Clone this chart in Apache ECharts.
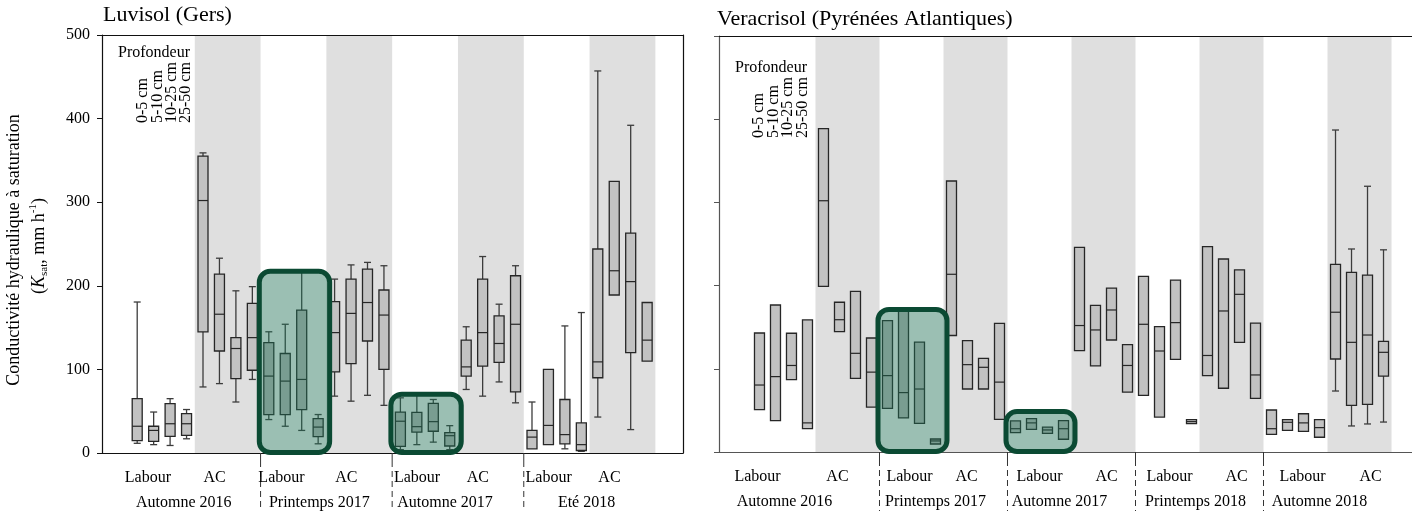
<!DOCTYPE html>
<html><head><meta charset="utf-8">
<script src="https://cdn.jsdelivr.net/npm/echarts@6/dist/echarts.min.js"></script>
<style>html,body{margin:0;padding:0;background:#fff}#c{width:1412px;height:511px}</style>
</head><body><div id="c"></div>
<script>
// ---------------- data ----------------
const panelTitles = ['Luvisol (Gers)', 'Veracrisol (Pyrénées Atlantiques)'];
const yAxisTitle = 'Conductivité hydraulique à saturation';
const depthTitle = 'Profondeur';
const depths = ['0-5 cm', '5-10 cm', '10-25 cm', '25-50 cm'];
const treatments = ['Labour', 'AC'];
const luvisolSeasons = ['Automne 2016', 'Printemps 2017', 'Automne 2017', 'Eté 2018'];
const veracrisolSeasons = ['Automne 2016', 'Printemps 2017', 'Automne 2017', 'Printemps 2018', 'Automne 2018'];
const yTicks = [0, 100, 200, 300, 400, 500];

// each box: [min, Q1, median, Q3, max] ; order: season > treatment > depth
const luvisolBoxes = [
  [11.6, 14.7, 32, 65, 180.6], [10, 14, 27, 32, 49], [9, 20, 35, 59, 65], [17, 21, 35, 47, 52],
  [79, 145, 302, 355, 359], [83, 122, 166, 214, 233], [61, 89, 125, 138, 194], [88, 99, 138, 179, 199],
  [40, 46, 92, 132, 145], [32, 46, 86, 119, 154], [27, 52, 88, 171, 218], [11, 19.5, 31, 41, 46],
  [68, 97, 144, 181, 208], [62, 107, 167, 208, 225], [69, 134, 180, 220, 228], [57, 100, 165, 195, 224],
  [4, 8, 38, 49, 66], [10, 25, 31.5, 48.6, 71], [13, 26, 37.5, 59.4, 64], [4, 8.4, 20.7, 24.3, 32.7],
  [76, 92, 103, 135, 151], [68, 104, 144, 208, 235], [85, 108.5, 131, 164, 178], [60, 73, 154, 212, 224],
  [5, 5, 19, 27, 61], [10, 10, 33, 100, 100], [5, 11, 22, 64, 152], [2, 3, 10, 36, 168],
  [43, 90, 109, 244, 457], [189, 189, 218, 325, 325], [28, 120, 205, 263, 392], [110, 110, 135, 180, 180]
];
const veracrisolBoxes = [
  [51, 51, 80.5, 143, 143], [37.7, 37.7, 90.6, 176.7, 176.7], [87, 87, 104, 142.7, 142.7], [28, 28, 35, 158.7, 158.7],
  [199, 199, 302, 388.7, 388.7], [144.7, 144.7, 159, 180, 180], [88.6, 88.6, 118.6, 193, 193], [54, 54, 96, 137, 137],
  [52.5, 52.5, 91.8, 158, 158], [41, 41, 71.4, 172, 172], [34.5, 34.5, 75.7, 132, 132], [9.6, 9.6, 13.3, 15.6, 15.6],
  [140, 140, 213.6, 325.7, 325.7], [75.7, 75.7, 105, 133.8, 133.8], [75.7, 75.7, 101.8, 112.6, 112.6], [39.3, 39.3, 84, 154.7, 154.7],
  [23.3, 23.3, 28, 37.3, 37.3], [27.3, 27.3, 35, 40, 40], [22.5, 22.5, 26.5, 30, 30], [15.3, 15.3, 28, 37.7, 37.7],
  [121.8, 121.8, 152, 246, 246], [103.4, 103.4, 146.7, 176.3, 176.3], [134.6, 134.6, 170.7, 197, 197], [72, 72, 104, 129, 129],
  [68, 68, 153.5, 211, 211], [42, 42, 121.4, 150.7, 150.7], [111.4, 111.4, 155.5, 206.7, 206.7], [34, 34, 36.5, 39, 39],
  [91.8, 91.8, 116, 246.8, 246.8], [76.6, 76.6, 169.5, 232, 232], [131.8, 131.8, 189.5, 219, 219], [64.5, 64.5, 92.6, 155, 155],
  [21.3, 21.3, 28, 50.5, 50.5], [26, 26, 35.7, 39, 39], [24.9, 24.9, 35, 46, 46], [17.7, 17.7, 29.3, 39, 39],
  [73.3, 111.8, 168, 225.6, 387], [31.3, 56, 131.8, 216, 244], [33.7, 57.3, 140.6, 212.7, 319.4], [36, 91.3, 119.8, 133, 243]
];
// highlighted groups: [seasonIndex, treatmentIndex]
const luvisolHighlights = [[1, 0], [2, 0]];
const veracrisolHighlights = [[1, 0], [2, 0]];

// ---------------- layout / style ----------------
const FONT = '"Liberation Serif","Times New Roman",serif';
const labelNudge = {
  luvisol: { treat: [-14, -13, -12, -13, -8, -13, -8, -13], season: [-11, -7, -13, -3] },
  veracrisol: { treat: [-26, -10, -2, -9, 0, 3, 2, 5, 7, 11], season: [-31, -8, -12, -4, -8] }
};

function boxSeriesData(boxes) { return boxes.map((b, i) => [i].concat(b)); }

function renderBox(params, api) {
  const x = api.value(0);
  const lo = api.value(1), q1 = api.value(2), md = api.value(3), q3 = api.value(4), hi = api.value(5);
  const cx = api.coord([x, md])[0];
  const yLo = api.coord([x, lo])[1], yQ1 = api.coord([x, q1])[1], yMd = api.coord([x, md])[1];
  const yQ3 = api.coord([x, q3])[1], yHi = api.coord([x, hi])[1];
  const hw = 5, cap = 3.5;
  const ws = { stroke: '#3c3c3c', lineWidth: 1.3 };
  const ch = [];
  if (hi > q3) {
    ch.push({ type: 'line', shape: { x1: cx, y1: yHi, x2: cx, y2: yQ3 }, style: ws });
    ch.push({ type: 'line', shape: { x1: cx - cap, y1: yHi, x2: cx + cap, y2: yHi }, style: ws });
  }
  if (lo < q1) {
    ch.push({ type: 'line', shape: { x1: cx, y1: yQ1, x2: cx, y2: yLo }, style: ws });
    ch.push({ type: 'line', shape: { x1: cx - cap, y1: yLo, x2: cx + cap, y2: yLo }, style: ws });
  }
  ch.push({ type: 'rect', shape: { x: cx - hw, y: yQ3, width: 2 * hw, height: Math.max(1, yQ1 - yQ3) },
    style: { fill: '#c2c2c2', stroke: '#262626', lineWidth: 1.3 } });
  ch.push({ type: 'line', shape: { x1: cx - hw, y1: yMd, x2: cx + hw, y2: yMd }, style: { stroke: '#262626', lineWidth: 1.2 } });
  return { type: 'group', children: ch };
}

function renderBand(params, api) {
  const a = api.coord([api.value(0), 500]);
  const b = api.coord([api.value(1), 0]);
  return { type: 'rect', shape: { x: a[0], y: a[1], width: b[0] - a[0], height: b[1] - a[1] }, style: { fill: '#dfdfdf' } };
}

function renderSep(params, api) {
  const p = api.coord([api.value(0), 0]);
  return { type: 'group', children: [
    { type: 'line', shape: { x1: p[0], y1: p[1], x2: p[0], y2: p[1] + 8 }, style: { stroke: '#333', lineWidth: 1 } },
    { type: 'line', shape: { x1: p[0], y1: p[1] + 8, x2: p[0], y2: 511 }, style: { stroke: '#333', lineWidth: 1, lineDash: [6, 4] } }
  ] };
}

function renderHighlight(params, api) {
  const first = api.value(0), last = api.value(1), top = api.value(2);
  const pf = api.coord([first, top]);
  const pl = api.coord([last, 0]);
  const x0 = pf[0] - 12, x1 = pl[0] + 14, y1 = pl[1] + 2;
  const y0 = Math.min(pf[1] - 2, y1 - 45);
  return { type: 'rect', shape: { x: x0 + 2.5, y: y0 + 2.5, width: x1 - x0 - 5, height: y1 - y0 - 5, r: 11 },
    style: { fill: 'rgba(33,113,86,0.45)', stroke: '#0b4a33', lineWidth: 5 } };
}

function makeLabelRender(seasons, nudge) {
  return function (params, api) {
    const x = api.value(0), kind = api.value(1), idx = api.value(2);
    const p = api.coord([x, 0]);
    const txt = kind === 0 ? treatments[idx % 2] : seasons[idx];
    const dx = kind === 0 ? nudge.treat[idx] : nudge.season[idx];
    return { type: 'text', x: p[0] + dx, y: p[1] + (kind === 0 ? 25 : 50),
      style: { text: txt, font: '16px ' + FONT, fill: '#000', align: 'center', verticalAlign: 'middle' } };
  };
}

function panelSeries(boxes, seasons, highlights, nudge, xi, yi) {
  const nS = seasons.length;
  const bands = [], seps = [], labels = [];
  for (let s = 0; s < nS; s++) {
    bands.push([8 * s + 3.5, 8 * s + 7.5]);
    if (s > 0) seps.push([8 * s - 0.5, 0]);
    labels.push([8 * s + 1.5, 0, 2 * s]);
    labels.push([8 * s + 5.5, 0, 2 * s + 1]);
    labels.push([8 * s + 3.5, 1, s]);
  }
  const hl = highlights.map(([s, t]) => {
    const f = 8 * s + 4 * t;
    let top = 0;
    for (let k = f; k < f + 4; k++) top = Math.max(top, boxes[k][4]);
    return [f, f + 3, top];
  });
  return [
    { type: 'custom', xAxisIndex: xi, yAxisIndex: yi, z: 1, silent: true, renderItem: renderBand, data: bands, encode: { x: [0, 1] } },
    { type: 'custom', xAxisIndex: xi, yAxisIndex: yi, z: 2, silent: true, renderItem: renderBox, data: boxSeriesData(boxes), encode: { x: 0, y: [1, 2, 3, 4, 5] } },
    { type: 'custom', xAxisIndex: xi, yAxisIndex: yi, z: 12, silent: true, renderItem: renderHighlight, data: hl, encode: { x: [0, 1], y: 2 } },
    { type: 'custom', xAxisIndex: xi, yAxisIndex: yi, z: 11, silent: true, renderItem: renderSep, data: seps, encode: { x: 0, y: 1 } },
    { type: 'custom', xAxisIndex: xi, yAxisIndex: yi, z: 13, silent: true, renderItem: makeLabelRender(seasons, nudge), data: labels, encode: { x: 0, y: 1 } }
  ];
}

const hidden = { axisTick: { show: false }, axisLabel: { show: false }, splitLine: { show: false } };
function xAx(grid, min, max, pos, color) {
  return Object.assign({ type: 'value', gridIndex: grid, min, max, position: pos, z: 10,
    axisLine: { show: true, onZero: false, lineStyle: { color, width: 1.2 } } }, hidden);
}

const chart = echarts.init(document.getElementById('c'), null, { renderer: 'canvas' });
chart.setOption({
  animation: false,
  backgroundColor: '#fff',
  grid: [
    { left: 102, top: 35, width: 581, height: 418 },
    { left: 719, top: 36, width: 693, height: 416 }
  ],
  xAxis: [
    xAx(0, -2.14, 33.18, 'bottom', '#111'),
    xAx(0, -2.14, 33.18, 'top', '#111'),
    xAx(1, -2.53, 40.78, 'bottom', '#555'),
    xAx(1, -2.53, 40.78, 'top', '#111')
  ],
  yAxis: [
    { type: 'value', gridIndex: 0, min: yTicks[0], max: yTicks[yTicks.length - 1], interval: yTicks[1] - yTicks[0], z: 10, position: 'left',
      axisLine: { show: true, onZero: false, lineStyle: { color: '#111', width: 1.2 } },
      axisTick: { show: true, length: 5, lineStyle: { color: '#111' } },
      axisLabel: { show: true, margin: 12, color: '#000', fontFamily: FONT, fontSize: 16 },
      splitLine: { show: false } },
    Object.assign({ type: 'value', gridIndex: 0, min: 0, max: 500, position: 'right', z: 10,
      axisLine: { show: true, onZero: false, lineStyle: { color: '#111', width: 1.2 } } }, hidden),
    { type: 'value', gridIndex: 1, min: yTicks[0], max: yTicks[yTicks.length - 1], interval: yTicks[1] - yTicks[0], z: 10, position: 'left',
      axisLine: { show: true, onZero: false, lineStyle: { color: '#555', width: 1.2 } },
      axisTick: { show: true, length: 5, lineStyle: { color: '#555' } },
      axisLabel: { show: false }, splitLine: { show: false } }
  ],
  series: [].concat(
    panelSeries(luvisolBoxes, luvisolSeasons, luvisolHighlights, labelNudge.luvisol, 0, 0),
    panelSeries(veracrisolBoxes, veracrisolSeasons, veracrisolHighlights, labelNudge.veracrisol, 2, 2)
  ),
  graphic: [
    { type: 'text', x: 103, y: 15, style: { text: panelTitles[0], font: '22px ' + FONT, fill: '#000', align: 'left', verticalAlign: 'middle' } },
    { type: 'text', x: 717, y: 19, style: { text: panelTitles[1], font: '22px ' + FONT, fill: '#000', align: 'left', verticalAlign: 'middle' } },
    { type: 'text', x: 14, y: 250, rotation: Math.PI / 2, style: { text: yAxisTitle, font: '18px ' + FONT, fill: '#000', align: 'center', verticalAlign: 'middle' } },
    { type: 'text', x: 39, y: 246, rotation: Math.PI / 2, style: {
      text: '({k|K}{s|sat}{n|, mm h}{p|-1}{n|)}', font: '18px ' + FONT, fill: '#000', align: 'center', verticalAlign: 'middle',
      rich: {
        k: { fontFamily: 'Liberation Serif', fontSize: 18, fontStyle: 'italic', lineHeight: 22, verticalAlign: 'middle' },
        n: { fontFamily: 'Liberation Serif', fontSize: 18, lineHeight: 22, verticalAlign: 'middle' },
        s: { fontFamily: 'Liberation Serif', fontSize: 11, lineHeight: 11, verticalAlign: 'bottom' },
        p: { fontFamily: 'Liberation Serif', fontSize: 11, lineHeight: 11, verticalAlign: 'top' }
      } } },
    { type: 'text', x: 190, y: 53, style: { text: depthTitle, font: '16px ' + FONT, fill: '#000', align: 'right', verticalAlign: 'middle' } },
    { type: 'text', x: 807, y: 68, style: { text: depthTitle, font: '16px ' + FONT, fill: '#000', align: 'right', verticalAlign: 'middle' } }
  ].concat(
    depths.map((d, i) => ({ type: 'text', x: 143 + i * 14.3, y: 123, rotation: Math.PI / 2,
      style: { text: d, font: '16px ' + FONT, fill: '#000', align: 'left', verticalAlign: 'middle' } })),
    depths.map((d, i) => ({ type: 'text', x: 758.5 + i * 14.8, y: 138, rotation: Math.PI / 2,
      style: { text: d, font: '16px ' + FONT, fill: '#000', align: 'left', verticalAlign: 'middle' } }))
  )
});
</script>
</body></html>
